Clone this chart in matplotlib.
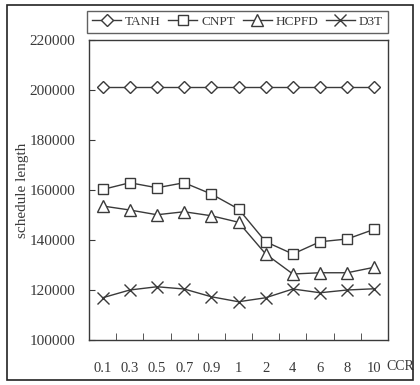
import numpy as np
import matplotlib
matplotlib.use("Agg")
import matplotlib.pyplot as plt
import matplotlib.patches as mpatches

plt.rcParams["font.family"] = ["Liberation Serif", "DejaVu Serif"]

# Data
ccr = ["0.1", "0.3", "0.5", "0.7", "0.9", "1", "2", "4", "6", "8", "10"]
tanh = [201000] * 11
cnpt = [160200, 162900, 160900, 162900, 158400, 152400, 139300, 134400, 139300, 140400, 144300]
hcpfd = [153600, 152000, 150100, 151300, 149700, 147100, 134400, 126400, 126900, 126900, 129100]
d3t = [116900, 120000, 121300, 120400, 117300, 115300, 116900, 120400, 118900, 120000, 120500]

LINE = "#3a3a3a"
TEXT = "#3a3a3a"

fig = plt.figure(figsize=(4.2, 3.85), dpi=100)
ax = fig.add_axes([89 / 420, 45 / 385, 299 / 420, 300 / 385])

x = np.arange(len(ccr))
series = [
    (tanh, "D", 6.5, "TANH"),
    (cnpt, "s", 7.5, "CNPT"),
    (hcpfd, "^", 8.5, "HCPFD"),
    (d3t, "x", 8.5, "D3T"),
]
for y, m, ms, lbl in series:
    ax.plot(x, y, color=LINE, linewidth=1.0, marker=m, markersize=ms,
            markerfacecolor="white", markeredgecolor=LINE, markeredgewidth=1.0,
            label=lbl)

ax.set_xlim(-0.5, len(ccr) - 0.5)
ax.set_ylim(100000, 220000)
ax.set_yticks(np.arange(100000, 220001, 20000))
ax.set_xticks(x)
ax.set_xticklabels(ccr)
ax.set_xticks(np.arange(0.5, len(ccr) - 1, 1.0), minor=True)
ax.tick_params(axis="x", which="major", length=0, pad=15.5, labelsize=10.5, colors=TEXT)
ax.tick_params(axis="x", which="minor", direction="in", length=5, color=LINE)
ax.tick_params(axis="y", direction="in", length=4, pad=10, labelsize=11, colors=TEXT)
for s in ax.spines.values():
    s.set_color(LINE)
    s.set_linewidth(1.0)

ax.set_ylabel("schedule length", fontsize=11, color=TEXT, labelpad=0)
ax.text(0.995, -0.09, "CCR", transform=ax.transAxes, ha="left", va="center",
        fontsize=10, color=TEXT)

leg = fig.legend(loc="center", ncol=4, mode="expand",
                 bbox_to_anchor=(87 / 420, 1 - 35 / 385, 301 / 420, 26 / 385),
                 fontsize=9.5, frameon=True, fancybox=False, handlelength=2.2,
                 handletextpad=0.3, columnspacing=0.6, borderaxespad=0)
leg.get_frame().set_edgecolor(LINE)
leg.get_frame().set_linewidth(1.0)
for t in leg.get_texts():
    t.set_color(TEXT)

# outer border
fig.patches.append(mpatches.Rectangle((7 / 420, 5 / 385), 406 / 420, 375 / 385,
                                      transform=fig.transFigure, fill=False,
                                      edgecolor="#222222", linewidth=1.2))

fig.savefig("out.png", dpi=100)
